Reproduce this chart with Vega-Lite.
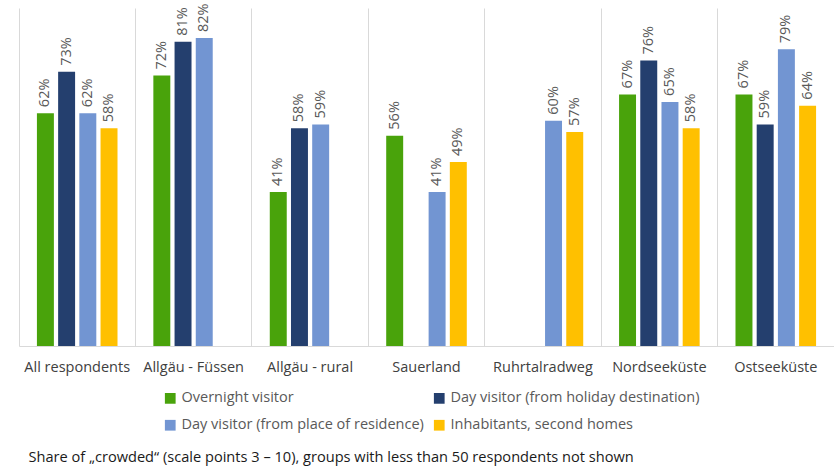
{
  "$schema": "https://vega.github.io/schema/vega-lite/v6.json",
  "width": 815,
  "height": 338,
  "autosize": {"type": "none"},
  "padding": {"left": 19, "top": 8, "right": 0, "bottom": 122},
  "background": "white",
  "config": {
    "view": {"stroke": null},
    "font": "Open Sans",
    "text": {"font": "Open Sans"}
  },
  "data": {
    "values": [
      {"region": "All respondents", "group": "Overnight visitor", "value": 0.62},
      {"region": "All respondents", "group": "Day visitor (from holiday destination)", "value": 0.73},
      {"region": "All respondents", "group": "Day visitor (from place of residence)", "value": 0.62},
      {"region": "All respondents", "group": "Inhabitants, second homes", "value": 0.58},
      {"region": "Allgäu - Füssen", "group": "Overnight visitor", "value": 0.72},
      {"region": "Allgäu - Füssen", "group": "Day visitor (from holiday destination)", "value": 0.81},
      {"region": "Allgäu - Füssen", "group": "Day visitor (from place of residence)", "value": 0.82},
      {"region": "Allgäu - rural", "group": "Overnight visitor", "value": 0.41},
      {"region": "Allgäu - rural", "group": "Day visitor (from holiday destination)", "value": 0.58},
      {"region": "Allgäu - rural", "group": "Day visitor (from place of residence)", "value": 0.59},
      {"region": "Sauerland", "group": "Overnight visitor", "value": 0.56},
      {"region": "Sauerland", "group": "Day visitor (from place of residence)", "value": 0.41},
      {"region": "Sauerland", "group": "Inhabitants, second homes", "value": 0.49},
      {"region": "Ruhrtalradweg", "group": "Day visitor (from place of residence)", "value": 0.60},
      {"region": "Ruhrtalradweg", "group": "Inhabitants, second homes", "value": 0.57},
      {"region": "Nordseeküste", "group": "Overnight visitor", "value": 0.67},
      {"region": "Nordseeküste", "group": "Day visitor (from holiday destination)", "value": 0.76},
      {"region": "Nordseeküste", "group": "Day visitor (from place of residence)", "value": 0.65},
      {"region": "Nordseeküste", "group": "Inhabitants, second homes", "value": 0.58},
      {"region": "Ostseeküste", "group": "Overnight visitor", "value": 0.67},
      {"region": "Ostseeküste", "group": "Day visitor (from holiday destination)", "value": 0.59},
      {"region": "Ostseeküste", "group": "Day visitor (from place of residence)", "value": 0.79},
      {"region": "Ostseeküste", "group": "Inhabitants, second homes", "value": 0.64}
    ]
  },
  "encoding": {
    "x": {
      "field": "region",
      "type": "nominal",
      "sort": ["All respondents", "Allgäu - Füssen", "Allgäu - rural", "Sauerland", "Ruhrtalradweg", "Nordseeküste", "Ostseeküste"],
      "scale": {"paddingInner": 0, "paddingOuter": 0},
      "axis": {
        "title": "Share of „crowded“ (scale points 3 – 10), groups with less than 50 respondents not shown",
        "titleFont": "Open Sans",
        "titleFontSize": 14.6,
        "titleFontWeight": "normal",
        "titleColor": "#1a1a1a",
        "titleAnchor": "start",
        "titleAlign": "left",
        "titleBaseline": "middle",
        "titleX": 9,
        "titleY": 111,
        "labelAngle": 0,
        "labelFont": "Open Sans",
        "labelFontSize": 14.5,
        "labelColor": "#404040",
        "labelPadding": 14,
        "ticks": false,
        "grid": true,
        "gridColor": "#d9d9d9",
        "bandPosition": 0,
        "domainColor": "#d9d9d9"
      }
    },
    "xOffset": {
      "field": "group",
      "type": "nominal",
      "sort": ["Overnight visitor", "Day visitor (from holiday destination)", "Day visitor (from place of residence)", "Inhabitants, second homes"],
      "scale": {"domain": ["Overnight visitor", "Day visitor (from holiday destination)", "Day visitor (from place of residence)", "Inhabitants, second homes"], "paddingInner": 0.2, "paddingOuter": 0.845}
    },
    "y": {
      "field": "value",
      "type": "quantitative",
      "scale": {"domain": [0, 0.9], "nice": false},
      "axis": null
    }
  },
  "layer": [
    {
      "mark": {"type": "bar"},
      "encoding": {
        "color": {
          "field": "group",
          "type": "nominal",
          "scale": {
            "domain": ["Overnight visitor", "Day visitor (from holiday destination)", "Day visitor (from place of residence)", "Inhabitants, second homes"],
            "range": ["#49A30B", "#243F6E", "#7295D2", "#FFC000"]
          },
          "legend": {
            "title": null,
            "orient": "none",
            "legendX": 144,
            "legendY": 383,
            "columns": 2,
            "columnPadding": 8,
            "rowPadding": 12,
            "values": ["Overnight visitor", "Day visitor (from place of residence)", "Day visitor (from holiday destination)", "Inhabitants, second homes"],
            "symbolType": "square",
            "symbolSize": 115,
            "symbolStrokeWidth": 0,
            "symbolOpacity": 1,
            "labelFont": "Open Sans",
            "labelFontSize": 14.5,
            "labelColor": "#595959",
            "labelOffset": 4,
            "labelLimit": 400
          }
        }
      }
    },
    {
      "mark": {"type": "text", "angle": 270, "align": "left", "baseline": "middle", "dx": 6, "font": "Open Sans", "fontSize": 14.5, "color": "#595959"},
      "encoding": {
        "text": {"field": "value", "type": "quantitative", "format": ".0%"},
        "detail": {"field": "group"}
      }
    }
  ]
}
